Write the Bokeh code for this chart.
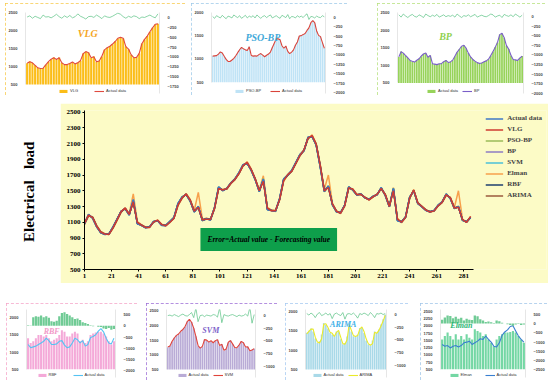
import math
from bokeh.plotting import figure
from bokeh.models import Range1d, LinearAxis, FixedTicker, Legend, LegendItem, Label, Spacer
from bokeh.layouts import row, column
from bokeh.embed import file_html
from bokeh.resources import INLINE

# ---------------- main chart data ----------------
days = list(range(1, 287, 3))
actual = [1080,1200,1150,1040,968,945,950,1040,1140,1240,1275,1190,
          1390,1080,1060,1030,1040,1110,1120,1060,1060,1110,1160,1340,
          1420,1455,1370,1230,1300,1120,1145,1130,1290,1550,1500,1530,
          1600,1650,1730,1830,1850,1760,1640,1490,1650,1260,1250,1240,
          1400,1650,1700,1760,1860,1960,2010,2180,2190,2080,1800,1490,
          1560,1320,1232,1220,1317,1550,1510,1445,1460,1410,1390,1430,
          1450,1540,1440,1296,1530,1120,1104,1170,1420,1500,1338,1296,
          1250,1232,1250,1317,1360,1460,1400,1275,1300,1125,1104,1160]
vlg = [1090,1190,1160,1050,975,950,945,1030,1130,1235,1280,1200,
       1360,1100,1065,1035,1035,1105,1125,1070,1055,1100,1150,1320,
       1410,1460,1380,1240,1290,1130,1140,1135,1280,1530,1510,1525,
       1595,1645,1720,1820,1860,1770,1650,1500,1620,1280,1245,1245,
       1390,1630,1705,1750,1850,1950,2020,2170,2200,2090,1820,1500,
       1540,1330,1240,1215,1310,1540,1520,1450,1455,1415,1385,1425,
       1455,1530,1450,1300,1500,1140,1100,1165,1410,1510,1345,1300,
       1255,1230,1245,1310,1355,1450,1410,1280,1290,1135,1100,1175]
pso_bp = [1082,1198,1152,1042,970,947,951,1038,1138,1242,1272,1192,
          1380,1082,1061,1031,1041,1112,1121,1061,1061,1112,1162,1338,
          1421,1453,1368,1232,1305,1118,1146,1131,1292,1548,1502,1532,
          1602,1652,1732,1832,1852,1758,1642,1488,1655,1258,1251,1238,
          1402,1652,1702,1762,1862,1962,2008,2182,2188,2078,1798,1488,
          1565,1318,1230,1221,1318,1552,1508,1446,1462,1408,1391,1432,
          1448,1542,1438,1295,1535,1118,1105,1172,1422,1498,1336,1297,
          1251,1231,1251,1318,1362,1462,1398,1273,1305,1123,1105,1158]
bp = [1088,1192,1158,1048,972,950,948,1036,1135,1236,1278,1198,
      1375,1090,1064,1034,1038,1106,1123,1066,1057,1106,1156,1330,
      1415,1457,1376,1238,1298,1128,1143,1134,1284,1540,1506,1527,
      1597,1647,1727,1826,1853,1766,1647,1496,1642,1268,1249,1244,
      1396,1642,1699,1757,1857,1957,2013,2176,2192,2086,1812,1497,
      1552,1327,1237,1219,1313,1544,1514,1449,1457,1413,1389,1427,
      1453,1536,1444,1299,1522,1128,1103,1166,1416,1504,1342,1299,
      1253,1233,1247,1314,1357,1456,1406,1279,1297,1129,1103,1163]
svm = [1084,1196,1154,1044,969,946,950,1039,1139,1239,1274,1193,
       1385,1083,1060,1031,1040,1110,1120,1061,1060,1110,1160,1339,
       1419,1454,1369,1231,1302,1121,1144,1131,1289,1549,1501,1529,
       1601,1651,1729,1829,1851,1761,1641,1491,1648,1261,1251,1241,
       1399,1649,1701,1759,1859,1959,2011,2179,2191,2081,1801,1491,
       1558,1321,1233,1221,1316,1549,1511,1446,1459,1411,1391,1429,
       1451,1539,1441,1297,1528,1121,1105,1169,1419,1501,1339,1297,
       1251,1233,1249,1316,1359,1459,1401,1276,1301,1126,1105,1161]
elman = [1070,1180,1170,1060,985,955,945,1020,1120,1225,1285,1210,
         1460,1110,1070,1040,1035,1100,1130,1075,1060,1095,1150,1310,
         1400,1465,1390,1250,1480,1140,1150,1140,1270,1520,1520,1520,
         1590,1640,1715,1810,1870,1780,1660,1510,1690,1290,1255,1250,
         1380,1620,1695,1745,1845,1940,2010,2160,2210,2100,1830,1520,
         1700,1340,1245,1210,1300,1530,1525,1455,1450,1420,1380,1420,
         1460,1520,1460,1310,1540,1150,1095,1160,1400,1515,1350,1305,
         1260,1235,1240,1305,1350,1440,1420,1290,1500,1140,1100,1170]
rbf = [1085,1195,1155,1045,965,948,952,1035,1138,1238,1270,1195,
       1370,1085,1062,1032,1042,1108,1118,1062,1058,1108,1158,1335,
       1418,1452,1372,1235,1295,1125,1142,1132,1285,1545,1505,1528,
       1598,1648,1725,1825,1848,1765,1645,1495,1640,1265,1248,1242,
       1395,1645,1698,1755,1855,1955,2012,2175,2188,2085,1810,1495,
       1555,1325,1235,1222,1315,1545,1512,1448,1458,1412,1392,1428,
       1452,1535,1445,1300,1525,1125,1106,1168,1415,1502,1340,1298,
       1252,1234,1248,1315,1358,1455,1405,1278,1298,1128,1106,1162]
arima = [1075,1185,1165,1055,980,952,948,1028,1128,1230,1278,1205,
         1350,1095,1068,1038,1038,1102,1122,1068,1062,1104,1152,1318,
         1408,1458,1385,1245,1285,1135,1148,1138,1275,1535,1512,1522,
         1592,1642,1718,1818,1855,1772,1652,1505,1630,1275,1252,1248,
         1385,1635,1702,1748,1848,1948,2015,2165,2195,2095,1825,1505,
         1545,1335,1242,1218,1308,1535,1518,1452,1452,1418,1388,1422,
         1458,1528,1452,1305,1510,1135,1102,1162,1405,1508,1348,1302,
         1258,1236,1244,1308,1352,1448,1412,1285,1292,1132,1102,1168]
x_ticks = [1, 21, 41, 61, 81, 101, 121, 141, 161, 181, 201, 221, 241, 261, 281]
y_ticks = [500, 700, 900, 1100, 1300, 1500, 1700, 1900, 2100, 2300, 2500]

# ---------------- inset data ----------------
vlg_bar = [1090,1140,1100,1040,960,940,960,1050,1130,1200,
           1250,1190,1250,1100,1060,1050,1090,1120,1070,1110,
           1160,1360,1410,1390,1240,1280,1130,1160,1280,1470,
           1520,1570,1620,1700,1780,1820,1780,1560,1480,1330,
           1240,1260,1360,1640,1750,1850,1960,2080,2170,2190]
vlg_act = [1095,1135,1105,1035,965,945,955,1045,1135,1205,
           1245,1195,1245,1105,1055,1055,1085,1125,1075,1105,
           1165,1355,1415,1385,1245,1275,1135,1155,1285,1465,
           1525,1565,1625,1695,1785,1815,1785,1555,1485,1325,
           1245,1255,1365,1635,1755,1845,1965,2075,2175,2185]
vlg_err = [10,40,-20,30,0,-30,60,10,20,-10,
           30,80,20,-20,40,0,50,-10,20,90,
           30,0,-40,20,30,0,60,20,-30,40,
           10,0,30,70,110,80,20,-20,30,0,
           40,20,-30,10,0,30,60,20,-10,90]

pso_bar = [1063,1063,1070,1110,1152,1131,1060,995,950,941,
           975,1009,1070,1131,1200,1247,1220,1199,1179,1267,
           1077,1063,1063,1063,1090,1118,1080,1050,1077,1110,
           1145,1250,1335,1437,1430,1416,1281,1233,1281,1160,
           1118,1145,1199,1290,1369,1491,1505,1520,1552,1610,
           1674,1776,1830,1776,1606,1505,1484,1348,1233]
pso_act = [1060,1066,1072,1105,1150,1128,1058,990,948,945,
           978,1012,1068,1135,1198,1250,1218,1195,1182,1262,
           1080,1060,1066,1060,1093,1115,1083,1047,1080,1106,
           1148,1247,1338,1432,1433,1411,1285,1230,1278,1163,
           1115,1148,1195,1294,1365,1494,1502,1524,1548,1614,
           1670,1780,1826,1780,1602,1508,1480,1352,1230]
pso_err = [20,-30,40,10,-20,50,0,-40,30,10,
           -20,60,20,-10,40,-30,10,50,-20,30,
           0,40,-20,60,10,-30,20,40,-10,30,
           60,-20,10,40,0,-30,50,20,-10,70,
           -40,20,10,-20,40,0,30,-10,50,90,
           -60,20,10,-20,30,0,-10,40,10]

bp_act = [1234,1390,1340,1280,1210,1142,1110,1096,1140,1188,
          1260,1326,1344,1234,1280,1050,1030,1023,1040,1050,
          1100,1142,1078,1100,1142,1260,1372,1460,1537,1573,
          1482,1350,1234,1170,1115,1080,1050,1070,1096,1130,
          1170,1280,1390,1520,1647,1876,1904,1784,1555,1463,
          1280,1170,1150,1142,1206,1261]
bp_pred = [1240,1385,1345,1275,1215,1138,1114,1092,1144,1184,
           1265,1322,1348,1230,1284,1046,1034,1019,1044,1046,
           1104,1138,1082,1096,1146,1256,1376,1456,1541,1569,
           1486,1346,1238,1166,1119,1076,1054,1066,1100,1126,
           1174,1276,1394,1516,1651,1872,1908,1780,1559,1459,
           1284,1166,1154,1138,1210,1257]
bp_err = [40,-20,60,10,-30,20,50,0,-20,40,
          10,-30,60,20,-10,30,0,50,-20,10,
          40,-10,20,0,30,-20,60,10,-30,20,
          0,40,-10,20,50,-20,10,30,0,-10,
          20,60,40,-20,10,30,-30,50,20,0,
          40,-10,60,20,-20,30]

rbf_pred = [1402,1264,1310,1402,1494,1494,1448,1494,1402,1310,
            1356,1402,1494,1632,1586,1448,1448,1540,1586,1540,
            1310,1356,1264,1310,1494,1540,1568,1586,1586,1540,
            1448,1310,1218,1310]
rbf_act = [1218,1126,1150,1172,1218,1264,1310,1402,1330,1218,
           1218,1236,1310,1330,1200,1126,1150,1264,1402,1356,
           1264,1330,1172,1218,1420,1448,1500,1605,1678,1586,
           1402,1264,1236,1402]
rbf_err = [20,-10,380,420,400,450,380,420,350,200,
           180,220,420,560,600,520,450,380,300,320,
           250,150,120,80,20,-20,0,-40,-60,-120,
           -150,-100,-180,-140]

svm_act = [1257,1310,1450,1581,1657,1720,1797,1880,1959,2143,
           2208,2122,1905,1635,1310,1235,1278,1527,1494,1440,
           1473,1419,1473,1527,1310,1365,1149,1203,1419,1494,
           1365,1257,1235,1343,1451,1419,1257,1278,1127,1170,
           1203]
svm_pred = [1265,1300,1460,1575,1665,1712,1805,1872,1967,2135,
            2216,2114,1913,1627,1318,1227,1286,1519,1502,1432,
            1481,1411,1481,1519,1318,1357,1157,1195,1427,1486,
            1373,1249,1243,1335,1459,1411,1265,1270,1135,1162,
            1211]
svm_err = [0,10,-10,20,0,-20,10,30,0,-10,
           20,60,-40,150,-120,0,10,-20,10,0,
           -10,20,10,-30,150,-140,20,0,-10,10,
           20,0,-20,10,-10,0,30,-10,160,-150,
           20]

arima_act = [1450,1500,1560,1480,1300,1190,1230,1400,1700,1650,
             1560,1440,1400,1380,1480,1480,1280,1150,1180,1350,
             1690,1480,1360,1340,1400,1570,1580,1440,1250,1150,
             1120,1250,1480,1440,1530,1660,1800,1920]
arima_pred = [1417,1483,1542,1542,1333,1208,1183,1292,1667,1683,
              1583,1458,1433,1350,1458,1508,1333,1167,1150,1267,
              1667,1517,1375,1350,1375,1542,1600,1483,1292,1167,
              1125,1167,1458,1433,1508,1625,1750,1900]
arima_err = [20,-10,30,0,-60,10,40,-20,0,30,
             -10,20,-80,10,30,0,-20,40,-90,10,
             20,0,30,-10,-70,20,0,30,10,-20,
             40,0,-60,20,10,30,0,20]

elman_pred = [1535,1653,1771,1653,1535,1712,1535,1653,1535,1712,
              1594,1535,1888,1829,1771,1653,1712,1535,1418,1300,
              1535,1653,1712,1771,1771,1794,1829,1771,1653,1535,
              1418]
elman_act = [1359,1300,1324,1241,1300,1324,1276,1324,1418,1441,
             1476,1359,1418,1476,1559,1535,1653,1535,1441,1300,
             1276,1418,1676,1794,1865,1982,2006,1829,1653,1535,
             1441]
elman_err = [200,320,420,400,280,360,250,300,150,250,
             200,180,420,380,220,150,80,100,60,20,
             150,120,40,-10,-40,-80,-120,-60,-30,-90,
             -60]

ticks_500 = [500, 1000, 1500, 2000, 2500]
ticks_500_2000 = [500, 1000, 1500, 2000]
ticks_250 = [500, 750, 1000, 1250, 1500, 1750, 2000, 2250, 2500]
err_ticks_250 = [0, -250, -500, -750, -1000, -1250, -1500, -1750, -2000]
err_ticks_500 = [500, 0, -500, -1000, -1500, -2000, -2500]

SERIF = "Liberation Serif"
ERR_GREEN = "#57c283"


def inset(w, h, bars, line, err, bar_label, line_label, bar_color, line_color,
          border, yr, yticks, er, eticks, title, title_color, title_xy, title_size,
          margins, err_bars=False):
    n = len(bars)
    xs = list(range(1, n + 1))
    ml, mr, mt, mb = margins
    f = figure(width=w, height=h, x_range=Range1d(0.4, n + 0.6), y_range=Range1d(*yr),
               x_axis_type=None, output_backend="svg", toolbar_location=None,
               min_border_left=ml, min_border_right=mr, min_border_top=mt, min_border_bottom=mb,
               background_fill_color="white", border_fill_color="white",
               outline_line_color=None,
               styles={"outline": f"1.2px dashed {border}", "outline-offset": "-1px"})
    f.grid.visible = False
    f.extra_y_ranges = {"err": Range1d(*er)}
    base = yticks[0]
    vb = f.vbar(x=xs, top=bars, bottom=base, width=0.78, fill_color=bar_color, line_color=None)
    ln = f.line(xs, line, line_color=line_color, line_width=1.1)
    if err_bars:
        f.vbar(x=xs, top=err, width=0.85, fill_color=ERR_GREEN, line_color=None,
               fill_alpha=0.85, y_range_name="err")
    else:
        f.line(xs, err, line_color=ERR_GREEN, line_width=0.7, y_range_name="err")
    ax2 = LinearAxis(y_range_name="err", ticker=FixedTicker(ticks=eticks))
    f.add_layout(ax2, "right")
    f.yaxis[0].ticker = FixedTicker(ticks=yticks)
    f.yaxis[0].bounds = (base, yr[1])
    for ax in f.yaxis:
        ax.major_label_text_font_size = "4px"
        ax.major_label_text_color = "#444444"
        ax.major_label_text_font_style = "bold"
        ax.axis_line_color = "#cccccc"
        ax.axis_line_width = 0.5
        ax.major_tick_line_color = None
        ax.minor_tick_line_color = None
        ax.major_label_standoff = 2
    leg = Legend(items=[LegendItem(label=bar_label, renderers=[vb]),
                        LegendItem(label=line_label, renderers=[ln])],
                 orientation="horizontal", location="bottom_center",
                 label_text_font_size="4px", label_text_color="#333333",
                 glyph_width=10, glyph_height=4, label_height=4, label_standoff=2,
                 spacing=4, padding=1, margin=0, border_line_color=None,
                 background_fill_alpha=0)
    f.add_layout(leg)
    f.add_layout(Label(x=title_xy[0], y=title_xy[1], text=title, text_color=title_color,
                       text_font=SERIF, text_font_style="bold italic",
                       text_font_size=title_size, text_baseline="middle"))
    return f


vlg_fig = inset(180, 92, vlg_bar, vlg_act, vlg_err, "VLG", "Actual data", "#fbbd18", "#e04a3f",
                "#f7c948", (253, 2500), ticks_500, (-1925, 125), err_ticks_250[:8],
                "VLG", "#f5a623", (20, 1915), "10px", (12, 26, 9, 1))
pso_fig = inset(156, 92, pso_bar, pso_act, pso_err, "PSO-BP", "Actual data", "#bfe3f6", "#d9443b",
                "#9cc9e8", (256, 2000), ticks_500_2000, (-2025, 125), err_ticks_250,
                "PSO-BP", "#3fa9d9", (18, 1470), "10px", (11, 7, 4, 2))
bp_fig = inset(168, 92, bp_act, bp_pred, bp_err, "Actual data", "BP", "#97d35a", "#7a5ec8",
               "#b5e07a", (199, 2500), ticks_500, (-2000, 100), err_ticks_250,
               "BP", "#8fd14f", (19, 1830), "10px", (18, 15, 6, 2))
rbf_fig = inset(131, 77, rbf_pred, rbf_act, rbf_err, "RBF", "Actual data", "#f4a9d8", "#55c3f2",
                "#f5a3c7", (265, 2230), ticks_500_2000, (-2295, 720), err_ticks_500[:6],
                "RBF", "#f29ac8", (7, 1604), "8px", (10, 10, 6, 3), err_bars=True)
svm_fig = inset(131, 77, svm_act, svm_pred, svm_err, "Actual data", "SVM", "#b9abd6", "#e0443b",
                "#9b6bd6", (222, 2550), ticks_500, (-1220, 120), err_ticks_250[:5],
                "SVM", "#7d5fc9", (17, 1819), "8px", (11, 10, 6, 3))
arima_fig = inset(123, 77, arima_act, arima_pred, arima_err, "Actual data", "ARIMA", "#a9d9e8", "#eaea2a",
                  "#a5c8f0", (290, 2050), ticks_500_2000, (-1240, 100), err_ticks_250[:5],
                  "ARIMA", "#3db0e8", (12, 1667), "8px", (11, 6, 6, 3))
elman_fig = inset(127, 77, elman_pred, elman_act, elman_err, "Elman", "Actual data", "#74d7a4", "#3a7fd0",
                  "#9fc5e8", (219, 2570), ticks_250, (-2904, 747), err_ticks_500,
                  "Elman", "#2bb673", (4, 2006), "8px", (17, 9, 6, 3), err_bars=True)

# ---------------- main figure ----------------
YELLOW = "#fcfbc6"
p = figure(width=488, height=180, x_range=Range1d(1, 342), y_range=Range1d(500, 2520),
           output_backend="svg", toolbar_location=None,
           background_fill_color=YELLOW, border_fill_color=YELLOW, outline_line_color=None,
           min_border_left=24, min_border_right=2, min_border_top=7, min_border_bottom=14)
p.grid.visible = False

series = [("Actual data", actual, "#3f79c6"), ("VLG", vlg, "#cf3b30"),
          ("PSO-BP", pso_bp, "#9bbb59"), ("BP", bp, "#8e7cc3"),
          ("SVM", svm, "#4bc0d9"), ("Elman", elman, "#f7a04b"),
          ("RBF", rbf, "#1f3f6e"), ("ARIMA", arima, "#9b5a3c")]
draw_order = ["Elman", "PSO-BP", "BP", "SVM", "ARIMA", "RBF", "Actual data", "VLG"]
rend = {}
for name in draw_order:
    for nm, vals, col in series:
        if nm == name:
            rend[nm] = p.line(days, vals, line_color=col, line_width=1.5)
items = [LegendItem(label=nm, renderers=[rend[nm]]) for nm, _, _ in series]
leg = Legend(items=items, location="top_right",
             label_text_font=SERIF, label_text_font_style="bold", label_text_font_size="7px",
             glyph_width=18, glyph_height=7, label_height=7, spacing=3, padding=0, margin=4,
             label_standoff=4, border_line_color=None, background_fill_alpha=0)
p.add_layout(leg)

p.xaxis.ticker = FixedTicker(ticks=x_ticks)
p.yaxis.ticker = FixedTicker(ticks=y_ticks)
p.xaxis.bounds = (1, 288)
for ax in (p.xaxis[0], p.yaxis[0]):
    ax.major_label_text_font = SERIF
    ax.major_label_text_font_style = "bold"
    ax.major_label_text_font_size = "7px"
    ax.major_label_text_color = "black"
    ax.axis_line_color = "black"
    ax.major_tick_line_color = "black"
    ax.major_tick_in = 0
    ax.major_tick_out = 2
    ax.minor_tick_line_color = None
    ax.major_label_standoff = 2

p.add_layout(Label(x=137, y=880, text="Error=Actual value - Forecasting value",
                   text_font=SERIF, text_font_style="bold italic", text_font_size="7.5px",
                   text_color="black", text_align="center", text_baseline="middle",
                   background_fill_color="#0e9f4b", padding=7))

lab = figure(width=60, height=180, x_range=Range1d(0, 60), y_range=Range1d(0, 180),
             x_axis_type=None, y_axis_type=None, output_backend="svg", toolbar_location=None,
             min_border=0, outline_line_color=None)
lab.grid.visible = False
lab.add_layout(Label(x=28, y=88, text="Electrical\u00a0\u00a0\u00a0load", angle=math.pi / 2,
                     text_align="center", text_baseline="middle", text_font=SERIF,
                     text_font_style="bold", text_font_size="15px", text_color="black"))

top = row(Spacer(width=5, height=92), vlg_fig, Spacer(width=6, height=92), pso_fig,
          Spacer(width=30, height=92), bp_fig)
mid = row(lab, p)
bottom = row(Spacer(width=6, height=77), rbf_fig, Spacer(width=9, height=77), svm_fig,
             Spacer(width=8, height=77), arima_fig, Spacer(width=12, height=77), elman_fig)
layout = column(Spacer(width=545, height=3), top, Spacer(width=545, height=8), mid,
                Spacer(width=545, height=20), bottom)

open("out.html", "w").write(file_html(layout, INLINE))
